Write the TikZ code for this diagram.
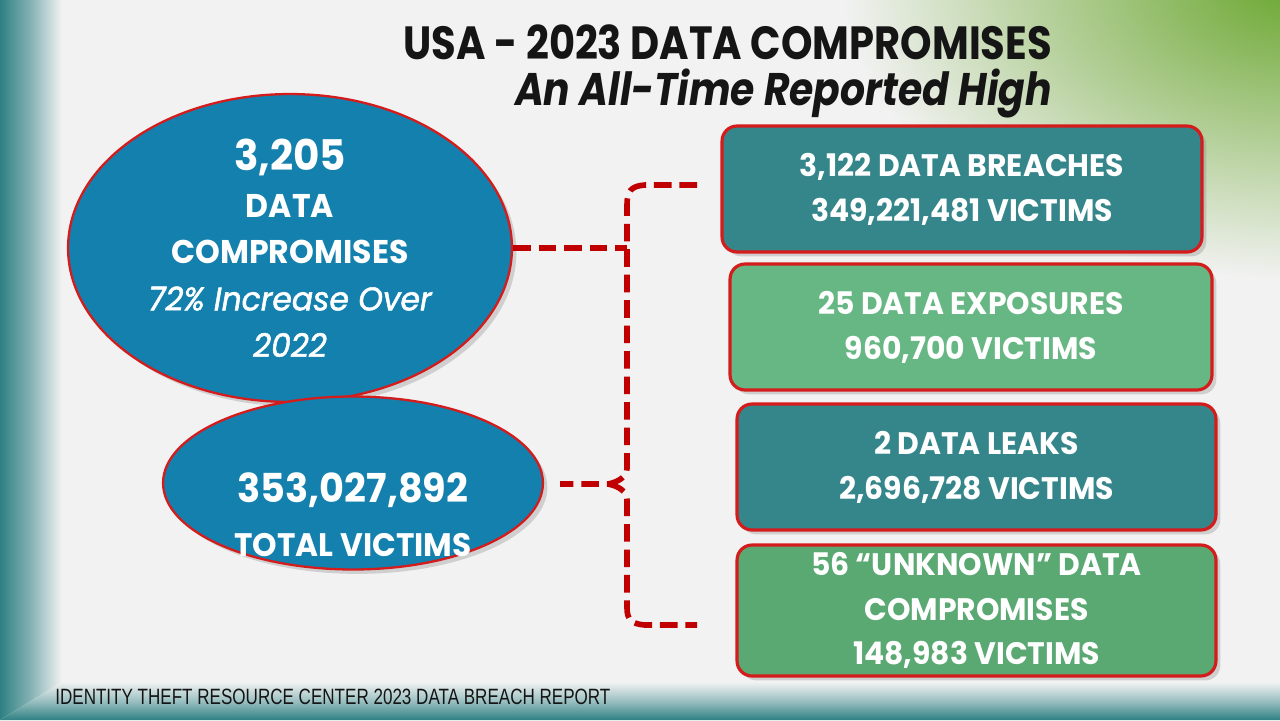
\documentclass[tikz,border=0pt]{standalone}
\usepackage{fontspec}
\setmainfont[FakeStretch=0.96]{Poppins}
\newfontfamily\headfont[FakeStretch=0.86]{Poppins}
\newfontfamily\notefont[FakeStretch=0.96,FakeBold=1.6]{Poppins}
\newfontfamily\footfont[FakeStretch=0.77]{Liberation Sans}
\usetikzlibrary{positioning,shapes.geometric,shadows,calc}
\definecolor{paper}{HTML}{F2F2F2}
\definecolor{frame}{HTML}{2E8083}
\definecolor{leaf}{HTML}{68A52C}
\definecolor{ink}{HTML}{151515}
\definecolor{ocean}{HTML}{1380AD}
\definecolor{lagoon}{HTML}{35868B}
\definecolor{mint}{HTML}{67B784}
\definecolor{moss}{HTML}{5AA872}
\definecolor{edge}{HTML}{D41C1C}
\definecolor{brace}{HTML}{C00000}
\tikzset{
  blob/.style={ellipse,draw=edge,line width=1.3pt,fill=ocean,text=white,align=center,inner sep=0pt,
    drop shadow={shadow xshift=2.5pt,shadow yshift=-2.5pt,opacity=.3}},
  tile/.style={rectangle,rounded corners=0.3cm,draw=edge,line width=1.8pt,text=white,align=center,
    inner sep=0pt,minimum width=9.6cm,minimum height=2.52cm,
    font=\bfseries\fontsize{17.7}{25.5}\selectfont,
    drop shadow={shadow xshift=2.5pt,shadow yshift=-2.5pt,opacity=.3}},
  link/.style={draw=brace,line width=3.2pt,dash pattern=on 10pt off 4.5pt}
}

\begin{document}
\begin{tikzpicture}[x=0.02cm,y=-0.02cm]
  \useasboundingbox (0,0) rectangle (1280,720);
  % backdrop
  \fill[paper] (0,0) rectangle (1280,720);
  \begin{scope}
    \clip (0,0) rectangle (1280,720);
    \shade[inner color=leaf,outer color=paper] (1300,-20) ellipse (460 and 300);
  \end{scope}
  \shade[left color=frame,right color=paper,middle color=frame!55!paper] (0,0) -- (62,0) -- (62,682) -- (0,720) -- cycle;
  \shade[top color=paper,bottom color=frame,middle color=frame!45!paper] (0,720) -- (62,682) -- (1280,682) -- (1280,720) -- cycle;

  % title
  \node[anchor=base east,text=ink,font=\headfont\bfseries\fontsize{26.5}{30}\selectfont] (title) at (1058,59)
    {USA - 2023 DATA COMPROMISES};
  \node[anchor=base east,text=ink,font=\headfont\bfseries\itshape\fontsize{26}{30}\selectfont] (subtitle) at (1058,105)
    {An All-Time Reported High};

  % left ellipses
  \node[blob,minimum width=8.88cm,minimum height=5.68cm,font=\bfseries\fontsize{18.7}{26.5}\selectfont] (comp) at (290,248)
    {{\fontsize{24}{26.5}\selectfont 3,205}\\DATA\\COMPROMISES\\
     {\notefont\mdseries\itshape\fontsize{18.6}{26.5}\selectfont 72\% Increase Over}\\
     {\notefont\mdseries\itshape\fontsize{18.6}{26.5}\selectfont 2022}};
  \node[blob,minimum width=7.6cm,minimum height=3.46cm] (vict) at (353,483) {};
  \node[text=white,align=center,font=\bfseries\fontsize{18.5}{30.6}\selectfont] (victtxt) at (353,515)
    {{\fontsize{22.7}{30.6}\selectfont 353,027,892}\\TOTAL VICTIMS};

  % right boxes
  \node[tile,fill=lagoon] (breach) at (962,189) {3,122 DATA BREACHES\\349,221,481 VICTIMS};
  \node[tile,fill=mint,minimum width=9.64cm] (expo) at (971,327) {25 DATA EXPOSURES\\960,700 VICTIMS};
  \node[tile,fill=lagoon,minimum width=9.58cm] (leak) at (976.5,467) {2 DATA LEAKS\\2,696,728 VICTIMS};
  \node[tile,fill=moss,minimum width=9.58cm,minimum height=2.62cm] (unk) at (976.5,610.5)
    {56 “UNKNOWN” DATA\\COMPROMISES\\148,983 VICTIMS};

  % brace
  \coordinate (bt) at (697,185);
  \coordinate (bb) at (697,625);
  \coordinate (spine) at (627,241);
  \coordinate (tip) at (608,484);
  \coordinate (toe) at (560,484);
  \draw[link] (comp.east) -- (comp.east -| spine);
  \draw[link] (bt) -- (645,185) .. controls (631,186) and (627,191) .. (627,205) -- (627,468)
    .. controls (627,477) and (618,482) .. (tip) -- (toe);
  \draw[link] (tip) .. controls (618,486) and (627,491) .. (627,500) -- (627,608)
    .. controls (627,620) and (632,624) .. (645,625) -- (bb);

  % source
  \node[anchor=base west,inner sep=0pt,text=ink,font=\footfont\fontsize{12.6}{14}\selectfont] (src) at (55,704)
    {IDENTITY THEFT RESOURCE CENTER 2023 DATA BREACH REPORT};
\end{tikzpicture}
\end{document}
